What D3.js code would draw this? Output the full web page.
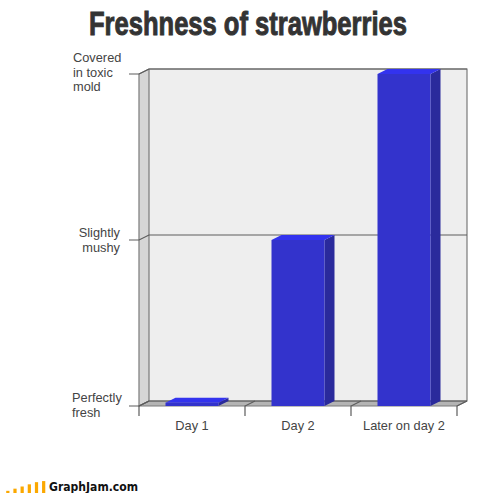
<!DOCTYPE html>
<html>
<head>
<meta charset="utf-8">
<script src="https://cdn.jsdelivr.net/npm/d3@7"></script>
<style>
  html, body { margin: 0; padding: 0; background: #fff; }
  svg { display: block; }
  text { font-family: "Liberation Sans", Arial, sans-serif; }
</style>
</head>
<body>
<div id="chart"></div>
<script>
var categories = ["Day 1", "Day 2", "Later on day 2"];
var freshness = [0.02, 1, 2];
var levels = [0, 1, 2];
var levelLabels = [["Perfectly", "fresh"], ["Slightly", "mushy"], ["Covered", "in toxic", "mold"]];
var logoBars = [1, 2, 3, 4, 5, 5.5];

var width = 500, height = 493;
// 3d offset of the back wall
var dx = 10, dy = 5;

var svg = d3.select("#chart").append("svg")
  .attr("width", width)
  .attr("height", height);

var x = d3.scaleBand()
  .domain(categories)
  .range([139, 457])
  .paddingInner(0.5)
  .paddingOuter(0.25);

var y = d3.scaleLinear()
  .domain([0, 2])
  .range([406, 74]);

var left = x.range()[0], right = x.range()[1];
var bottom = y(0), top_ = y(2);

function poly(points) { return "M" + points.join("L") + "Z"; }

// title, squeezed to the width it has in the original
var title = svg.append("text")
  .style("font-family", "'Liberation Sans Narrow', 'Liberation Sans', sans-serif")
  .style("font-weight", "bold")
  .style("font-size", "34px")
  .style("fill", "#333")
  .style("stroke", "#333")
  .style("stroke-width", "1px")
  .text("Freshness of strawberries");
title.attr("transform", "translate(89,35) scale(" + (318 / title.node().getComputedTextLength()) + ",1)");

// back wall, side wall and floor
svg.append("path")
  .attr("d", poly([[left + dx, top_ - dy], [right + dx, top_ - dy], [right + dx, bottom - dy], [left + dx, bottom - dy]]))
  .attr("fill", "#eeeeee");
svg.append("path")
  .attr("d", poly([[left, top_], [left + dx, top_ - dy], [left + dx, bottom - dy], [left, bottom]]))
  .attr("fill", "#d6d6d6");
svg.append("path")
  .attr("d", poly([[left, bottom], [left + dx, bottom - dy], [right + dx, bottom - dy], [right, bottom]]))
  .attr("fill", "#b4b4b4");

// wall outlines
var edge = "#7a7a7a";
svg.append("path")
  .attr("d", "M" + [left, bottom] + "L" + [left, top_] + "L" + [left + dx, top_ - dy] + "L" + [right + dx, top_ - dy] + "L" + [right + dx, bottom - dy] + "L" + [right, bottom] + "Z")
  .attr("fill", "none")
  .attr("stroke", edge)
  .attr("stroke-width", 1.2);
svg.append("path")
  .attr("d", "M" + [left, bottom] + "L" + [left + dx, bottom - dy] + "L" + [right + dx, bottom - dy] + "M" + [left + dx, bottom - dy] + "L" + [left + dx, top_ - dy])
  .attr("fill", "none")
  .attr("stroke", edge)
  .attr("stroke-width", 1.2);

// horizontal grid lines, with the ticks on the left
svg.append("g").selectAll("path")
  .data(levels)
  .enter()
  .append("path")
    .attr("fill", "none")
    .attr("stroke", "#5c5c5c")
    .attr("stroke-width", 1.2)
    .attr("d", function(d) {
      return "M" + [left - 10, y(d)] + "L" + [left, y(d)] + "L" + [left + dx, y(d) - dy] + "L" + [right + dx, y(d) - dy];
    });

// x ticks sit on the band edges
var tickEdges = categories.map(function(d) { return x(d) - x.step() * 0.25; }).concat([right]);
svg.append("g").selectAll("path")
  .data(tickEdges)
  .enter()
  .append("path")
    .attr("fill", "none")
    .attr("stroke", "#5c5c5c")
    .attr("stroke-width", 1.2)
    .attr("d", function(d) {
      return "M" + [d, bottom + 10] + "L" + [d, bottom] + "L" + [d + dx, bottom - dy];
    });

// bars
var bars = svg.append("g").selectAll("g")
  .data(categories)
  .enter()
  .append("g");

bars.append("path")
  .attr("fill", "#2a2a9c")
  .attr("d", function(d, i) {
    var x1 = x(d) + x.bandwidth();
    return poly([[x1, y(freshness[i])], [x1 + dx, y(freshness[i]) - dy], [x1 + dx, bottom - dy], [x1, bottom]]);
  });
bars.append("path")
  .attr("fill", "#3333ee")
  .attr("d", function(d, i) {
    var x0 = x(d), x1 = x0 + x.bandwidth(), t = y(freshness[i]);
    return poly([[x0, t], [x0 + dx, t - dy], [x1 + dx, t - dy], [x1, t]]);
  });
bars.append("rect")
  .attr("fill", "#3333cc")
  .attr("x", function(d) { return x(d); })
  .attr("width", x.bandwidth())
  .attr("y", function(d, i) { return y(freshness[i]); })
  .attr("height", function(d, i) { return bottom - y(freshness[i]); });

// category labels
svg.append("g").selectAll("text")
  .data(categories)
  .enter()
  .append("text")
    .attr("x", function(d) { return x(d) + x.bandwidth() / 2; })
    .attr("y", 430)
    .attr("text-anchor", "middle")
    .style("font-size", "12.8px")
    .style("fill", "#444")
    .text(function(d) { return d; });

// level labels: first and last are flush left, the middle one flush right
var labelGroups = svg.append("g").selectAll("text")
  .data(levels)
  .enter()
  .append("text")
    .attr("text-anchor", function(d) { return d === 1 ? "end" : "start"; })
    .style("font-size", "12.8px")
    .style("fill", "#444")
    .attr("transform", function(d) {
      var lx = d === 1 ? 120 : (d === 0 ? 72 : 73);
      var ly = d === 1 ? y(d) - 3 : (d === 0 ? y(d) - 4 : y(d) - 12);
      return "translate(" + lx + "," + ly + ")";
    });
labelGroups.selectAll("tspan")
  .data(function(d) { return levelLabels[d]; })
  .enter()
  .append("tspan")
    .attr("x", 0)
    .attr("y", function(d, i) { return i * 14.5; })
    .text(function(d) { return d; });

// GraphJam logo
var logoX = d3.scaleBand()
  .domain(d3.range(logoBars.length))
  .range([5.5, 46])
  .paddingInner(0.55)
  .paddingOuter(0.1);
var logoY = d3.scaleLinear()
  .domain([0, 6])
  .range([493, 480]);

svg.append("g").selectAll("rect")
  .data(logoBars)
  .enter()
  .append("rect")
    .attr("x", function(d, i) { return logoX(i); })
    .attr("width", logoX.bandwidth())
    .attr("y", function(d) { return logoY(d); })
    .attr("height", function(d) { return 493 - logoY(d); })
    .attr("fill", "#fba800");

svg.append("text")
  .attr("x", 49)
  .attr("y", 491)
  .attr("textLength", 89)
  .attr("lengthAdjust", "spacingAndGlyphs")
  .style("font-family", "'DejaVu Sans', sans-serif")
  .style("font-weight", "bold")
  .style("font-size", "12px")
  .style("fill", "#111")
  .text("GraphJam.com");
</script>
</body>
</html>
